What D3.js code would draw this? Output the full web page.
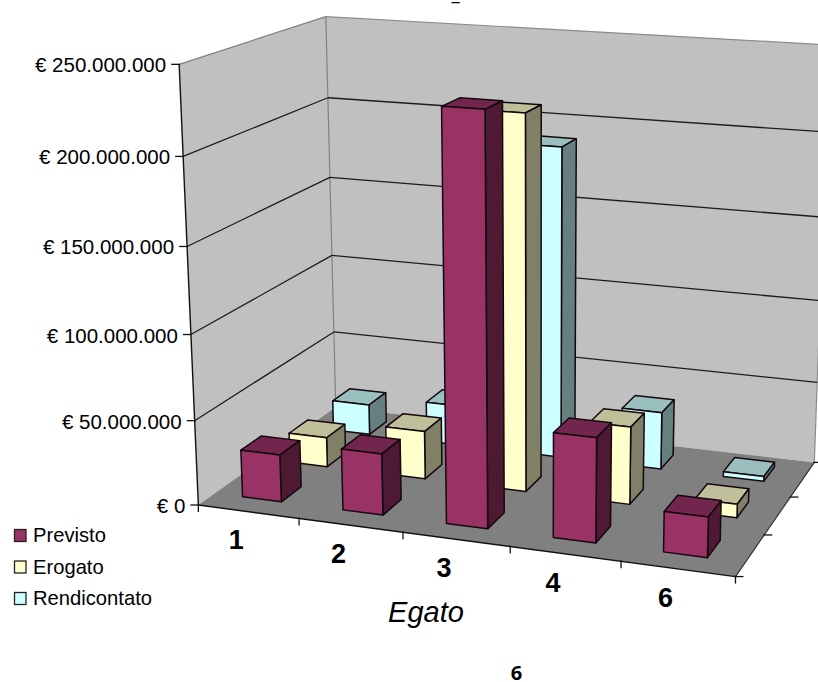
<!DOCTYPE html>
<html>
<head>
<meta charset="utf-8">
<script src="https://cdn.jsdelivr.net/npm/d3@7"></script>
<style>
html,body{margin:0;padding:0;background:#fff;overflow:hidden}
svg{display:block}
text{font-family:"Liberation Sans",Arial,sans-serif;fill:#000}
</style>
</head>
<body>
<svg id="chart" width="818" height="682"></svg>
<script>
// Funding per egato, in euro
const categories = ["1", "2", "3", "4", "6"];
const seriesNames = ["Previsto", "Erogato", "Rendicontato"];
const previsto = [28000000, 36000000, 233000000, 60000000, 23000000];
const erogato = [18000000, 29000000, 220000000, 46000000, 8000000];
const rendicontato = [19000000, 25000000, 189000000, 35000000, 3000000];
const valueTicks = [0, 50000000, 100000000, 150000000, 200000000, 250000000];
const tickLabels = ["€ 0", "€ 50.000.000", "€ 100.000.000", "€ 150.000.000", "€ 200.000.000", "€ 250.000.000"];
const seriesValues = [previsto, erogato, rendicontato];

// Face colours per series: front, top, right side
const palette = [
  {front: "#993366", top: "#73264d", side: "#4d1933"},
  {front: "#ffffcc", top: "#bfbf99", side: "#808066"},
  {front: "#ccffff", top: "#99bfbf", side: "#668080"}
];

// Camera: projective map of the unit box (x along categories, y into depth, z up)
const boxCorners = [
  [[0, 0, 0], [198, 504]], [[1, 0, 0], [736, 577]],
  [[0, 1, 0], [336, 408]], [[1, 1, 0], [814, 462]],
  [[0, 0, 1], [179, 65]],  [[0, 1, 1], [326, 16]],
  [[1, 1, 1], [829, 45]]
];

function solveCamera(pairs) {
  const rows = [], rhs = [];
  pairs.forEach(([[x, y, z], [u, v]]) => {
    rows.push([x, y, z, 1, 0, 0, 0, 0, -u * x, -u * y, -u * z]); rhs.push(u);
    rows.push([0, 0, 0, 0, x, y, z, 1, -v * x, -v * y, -v * z]); rhs.push(v);
  });
  const n = 11;
  const A = d3.range(n).map(i => d3.range(n + 1).map(j =>
    d3.sum(rows, (r, k) => r[i] * (j < n ? r[j] : rhs[k]))));
  for (let i = 0; i < n; i++) {
    let p = i;
    for (let k = i + 1; k < n; k++) if (Math.abs(A[k][i]) > Math.abs(A[p][i])) p = k;
    [A[i], A[p]] = [A[p], A[i]];
    for (let k = 0; k < n; k++) {
      if (k === i) continue;
      const f = A[k][i] / A[i][i];
      for (let j = i; j <= n; j++) A[k][j] -= f * A[i][j];
    }
  }
  return A.map((r, i) => r[n] / r[i]);
}
const m = solveCamera(boxCorners);
function project(x, y, z) {
  const w = m[8] * x + m[9] * y + m[10] * z + 1;
  return [(m[0] * x + m[1] * y + m[2] * z + m[3]) / w,
          (m[4] * x + m[5] * y + m[6] * z + m[7]) / w];
}

// Data scales into box coordinates
const xBand = d3.scaleBand().domain(categories).range([-0.005, 0.995]).paddingInner(0.61).paddingOuter(0.305);
const xStep = d3.scalePoint().domain(d3.range(categories.length + 1)).range([0, 1]);
const depthBand = d3.scaleBand().domain(seriesNames).range([0.012, 1.012]).paddingInner(0.58).paddingOuter(0.29);
const depthStep = d3.scalePoint().domain(d3.range(seriesNames.length + 1)).range([0, 1]);
const zScale = d3.scaleLinear().domain([0, 250000000]).range([0, 1]);

const svg = d3.select("#chart");
const polygon = d3.line();
const face = (g, pts, fill, stroke, sw) => g.append("path")
  .attr("d", polygon(pts) + "Z").attr("fill", fill)
  .attr("stroke", stroke || "none").attr("stroke-width", sw || 0)
  .attr("stroke-linejoin", "round");
const segment = (g, a, b, stroke, sw) => g.append("line")
  .attr("x1", a[0]).attr("y1", a[1]).attr("x2", b[0]).attr("y2", b[1])
  .attr("stroke", stroke).attr("stroke-width", sw);

// Walls and floor
const walls = svg.append("g");
face(walls, [project(0,0,0), project(0,1,0), project(0,1,1), project(0,0,1)], "#c0c0c0");
face(walls, [project(0,1,0), project(1,1,0), project(1,1,1), project(0,1,1)], "#c0c0c0");
face(walls, [project(0,0,0), project(1,0,0), project(1,1,0), project(0,1,0)], "#808080");
segment(walls, project(0,0,1), project(0,1,1), "#808080", 1.2);
segment(walls, project(0,1,1), project(1,1,1), "#8c8c8c", 1.2);
segment(walls, project(0,1,0), project(0,1,1), "#808080", 1.2);
segment(walls, project(1,1,0), project(1,1,1), "#8c8c8c", 1.2);

// Gridlines along the side and back walls
valueTicks.slice(1, -1).forEach(v => {
  const z = zScale(v);
  segment(walls, project(0,0,z), project(0,1,z), "#1c1c1c", 1.3);
  segment(walls, project(0,1,z), project(1,1,z), "#1c1c1c", 1.3);
});

// Axes with their tick marks
const axes = svg.append("g");
segment(axes, project(0,0,0), project(0,0,1), "#111", 1.4);
segment(axes, project(0,0,0), project(1,0,0), "#111", 1.4);
segment(axes, project(1,0,0), project(1,1,0), "#333", 1.2);
valueTicks.forEach(v => {
  const p = project(0, 0, zScale(v));
  segment(axes, [p[0] - 8, p[1]], [p[0] + 1, p[1]], "#111", 1.3);
});
xStep.domain().forEach(i => {
  const p = project(xStep(i), 0, 0);
  segment(axes, [p[0], p[1] - 1], [p[0], p[1] + 7], "#111", 1.3);
});
depthStep.domain().forEach(i => {
  const p = project(1, depthStep(i), 0);
  segment(axes, [p[0] - 1, p[1]], [p[0] + 8, p[1]], "#111", 1.3);
});

// Columns, back row first, so nearer ones overlap
const bars = svg.append("g");
d3.range(seriesNames.length - 1, -1, -1).forEach(s => {
  const y0 = depthBand(seriesNames[s]), y1 = y0 + depthBand.bandwidth();
  categories.forEach((c, i) => {
    const x0 = xBand(c), x1 = x0 + xBand.bandwidth();
    const z = zScale(seriesValues[s][i]);
    const g = bars.append("g");
    const col = palette[s];
    face(g, [project(x0,y0,z), project(x1,y0,z), project(x1,y1,z), project(x0,y1,z)], col.top, "#14080e", 1.5);
    face(g, [project(x1,y0,0), project(x1,y1,0), project(x1,y1,z), project(x1,y0,z)], col.side, "#14080e", 1.5);
    face(g, [project(x0,y0,0), project(x1,y0,0), project(x1,y0,z), project(x0,y0,z)], col.front, "#14080e", 1.5);
  });
});

// Value labels
const labels = svg.append("g");
valueTicks.forEach((v, i) => {
  const p = project(0, 0, zScale(v));
  labels.append("text").attr("x", p[0] - 13).attr("y", p[1] + 8)
    .attr("text-anchor", "end").attr("font-size", 20.5).text(tickLabels[i]);
});

// Category labels
categories.forEach(c => {
  const p = project(xBand(c) + xBand.bandwidth() / 2, 0, 0);
  labels.append("text").attr("x", p[0] - 9.5).attr("y", p[1] + 38)
    .attr("text-anchor", "middle").attr("font-size", 27).attr("font-weight", "bold").text(c);
});
labels.append("text").attr("x", 426).attr("y", 622).attr("text-anchor", "middle")
  .attr("font-size", 29).attr("font-style", "italic").text("Egato");

// Legend
const legendRow = d3.scalePoint().domain(seriesNames).range([529, 592]);
seriesNames.forEach((name, s) => {
  const y = legendRow(name);
  svg.append("rect").attr("x", 14.5).attr("y", y + 0.5).attr("width", 11.5).attr("height", 12)
    .attr("fill", palette[s].front).attr("stroke", "#222").attr("stroke-width", 1.3);
  svg.append("text").attr("x", 33).attr("y", y + 13).attr("font-size", 20.2).text(name);
});

// Marks left by the surrounding page text
svg.append("text").attr("x", 516.5).attr("y", 680).attr("text-anchor", "middle")
  .attr("font-size", 20).attr("font-weight", "bold").style("font-family", "'Open Sans'").text("6");
svg.append("text").attr("x", 455.5).attr("y", 0).attr("text-anchor", "middle")
  .attr("font-size", 20).attr("font-weight", "bold").style("font-family", "'Open Sans'").text("_");
</script>
</body>
</html>
